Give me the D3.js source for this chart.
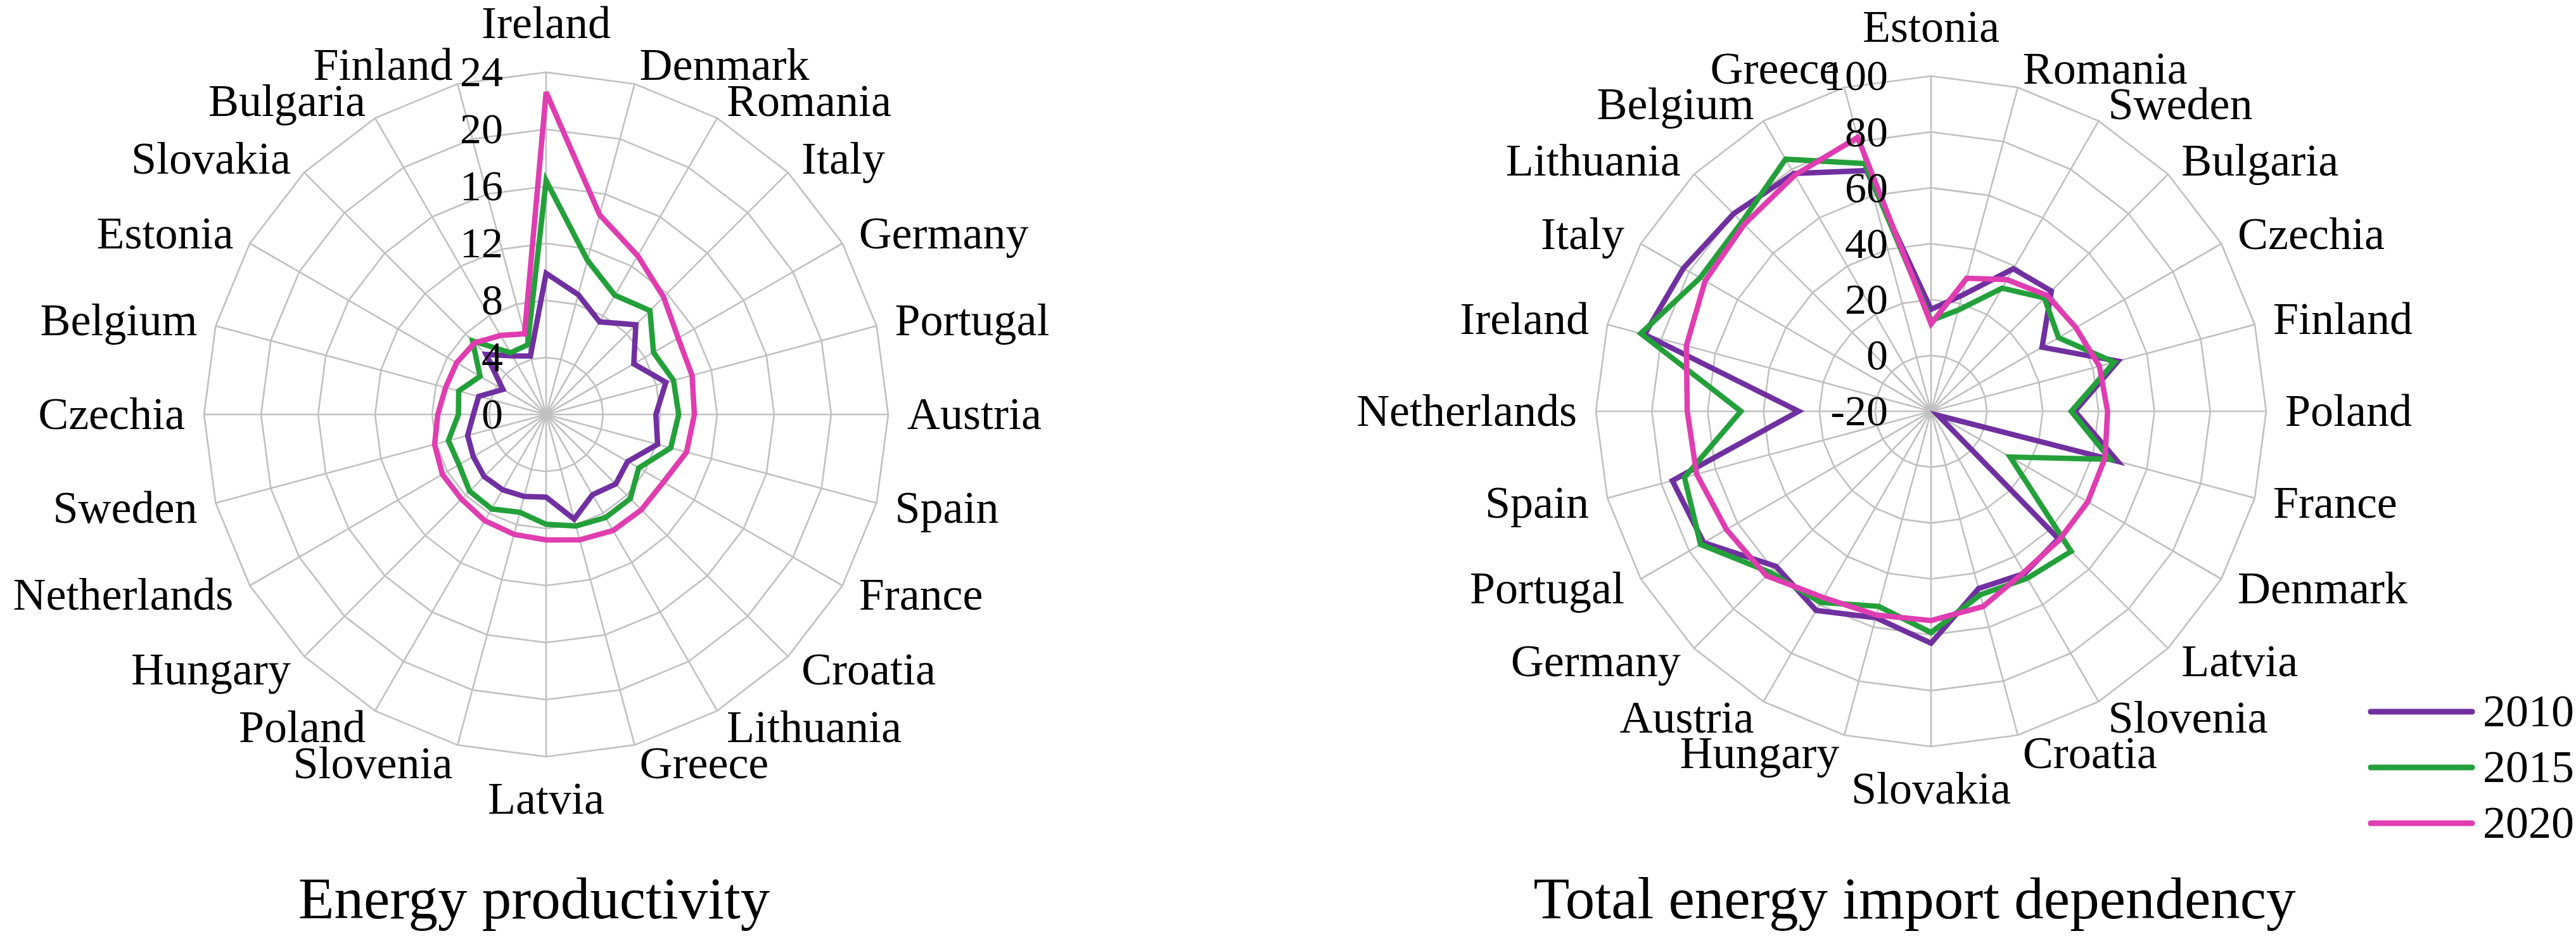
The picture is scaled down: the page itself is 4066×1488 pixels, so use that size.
<!DOCTYPE html>
<html>
<head>
<meta charset="utf-8">
<script src="https://cdn.jsdelivr.net/npm/d3@7"></script>
<style>
  html, body { margin: 0; padding: 0; background: #fff; }
  text { font-family: "Liberation Serif", "Times New Roman", serif; fill: #000; }
</style>
</head>
<body>
<script>
// ---- data ----
var years = ["2010", "2015", "2020"];
var colors = ["#7030a0", "#23a03a", "#df3db0"];

var prodCats = ["Ireland", "Denmark", "Romania", "Italy", "Germany", "Portugal", "Austria", "Spain",
  "France", "Croatia", "Lithuania", "Greece", "Latvia", "Slovenia", "Poland", "Hungary",
  "Netherlands", "Sweden", "Czechia", "Belgium", "Estonia", "Slovakia", "Bulgaria", "Finland"];
var prod2010 = [9.9, 8.7, 7.5, 8.9, 7.1, 8.7, 7.7, 8.1, 6.6, 6.9, 6.5, 7.6, 5.8, 5.95, 6.1, 6.15, 5.9, 5.7, 5.1, 4.9, 3.5, 5.95, 4.75, 4.25];
var prod2015 = [16.4, 11.2, 9.65, 10.3, 8.7, 9.25, 9.3, 9.05, 7.5, 8.35, 8.35, 8.1, 7.7, 7.1, 7.65, 7.6, 7.05, 7.1, 6.15, 6.35, 5.35, 7.3, 5.0, 5.05];
var prod2020 = [22.6, 14.5, 12.85, 11.65, 10.7, 10.6, 10.4, 10.2, 9.5, 9.45, 9.4, 9.1, 8.8, 8.7, 8.6, 8.4, 8.4, 8.1, 7.6, 7.3, 7.25, 7.1, 6.4, 5.85];
var prodTicks = [0, 4, 8, 12, 16, 20, 24];

var impCats = ["Estonia", "Romania", "Sweden", "Bulgaria", "Czechia", "Finland", "Poland", "France",
  "Denmark", "Latvia", "Slovenia", "Croatia", "Slovakia", "Hungary", "Austria", "Germany",
  "Portugal", "Spain", "Netherlands", "Ireland", "Italy", "Lithuania", "Belgium", "Greece"];
var imp2010 = [16.5, 23, 38.9, 40.9, 25.9, 49.3, 31.5, 49.1, -17, 44.5, 47, 45.7, 63, 56.5, 62.3, 58.5, 74, 75.9, 27.4, 86.2, 82.4, 80, 78.3, 69.2];
var imp2015 = [12.5, 17.5, 30.9, 37.4, 32.7, 47.9, 30.2, 46.4, 12.7, 50.9, 49, 48, 59.2, 52.3, 59, 61.5, 75.3, 71.4, 48.1, 87.6, 75.5, 75.8, 84.2, 71.8];
var imp2020 = [11.3, 29.3, 34.4, 38.7, 39.9, 42.4, 43.2, 44.5, 44.8, 45, 46.5, 52.3, 54.9, 55.5, 57, 63.3, 64.6, 66.9, 67.3, 70.7, 73.4, 74.6, 77.6, 81.5];
var impTicks = [-20, 0, 20, 40, 60, 80, 100];

var w = 4066;
var h = 1488;

var svg = d3.select("body").append("svg")
  .attr("width", w)
  .attr("height", h);

var drawRadar = function(cats, series, ticks, cx, cy, R, title, titleX) {
  var n = cats.length;
  var g = svg.append("g").attr("transform", "translate(" + cx + "," + cy + ")");

  var angle = d3.scaleLinear().domain([0, n]).range([0, 2 * Math.PI]);
  var rScale = d3.scaleLinear()
    .domain([ticks[0], ticks[ticks.length - 1]])
    .range([0, R]);

  // ring gridlines (polygons)
  ticks.slice(1).forEach(function(t) {
    var ring = d3.lineRadial()
      .angle(function(d, i) { return angle(i); })
      .radius(rScale(t))
      .curve(d3.curveLinearClosed);
    g.append("path")
      .attr("d", ring(cats))
      .attr("fill", "none")
      .attr("stroke", "#c0c0c0")
      .attr("stroke-width", 2.6);
  });

  // spokes
  g.selectAll("line.spoke")
    .data(cats)
    .enter()
    .append("line")
    .attr("class", "spoke")
    .attr("x1", 0).attr("y1", 0)
    .attr("x2", function(d, i) { return R * Math.sin(angle(i)); })
    .attr("y2", function(d, i) { return -R * Math.cos(angle(i)); })
    .attr("stroke", "#c0c0c0")
    .attr("stroke-width", 2.6);

  // series
  var line = d3.lineRadial()
    .angle(function(d, i) { return angle(i); })
    .radius(function(d) { return rScale(d); })
    .curve(d3.curveLinearClosed);

  series.forEach(function(s, k) {
    g.append("path")
      .attr("d", line(s))
      .attr("fill", "none")
      .attr("stroke", colors[k])
      .attr("stroke-width", 8.5)
      .attr("stroke-linejoin", "miter");
  });

  // tick labels
  g.selectAll("text.tick")
    .data(ticks)
    .enter()
    .append("text")
    .attr("class", "tick")
    .attr("x", -68)
    .attr("y", function(d) { return -rScale(d); })
    .attr("dy", "0.33em")
    .attr("text-anchor", "end")
    .attr("font-size", "68px")
    .text(function(d) { return d; });

  // category labels
  var lr = R + 30;
  g.selectAll("text.cat")
    .data(cats)
    .enter()
    .append("text")
    .attr("class", "cat")
    .attr("font-size", "72px")
    .attr("x", function(d, i) { return lr * Math.sin(angle(i)); })
    .attr("y", function(d, i) {
      var s = Math.sin(angle(i)), c = Math.cos(angle(i));
      var y = -lr * c;
      if (Math.abs(s) < 0.01) return c > 0 ? y - 24 : y + 60;
      return y + 23;
    })
    .attr("text-anchor", function(d, i) {
      var s = Math.sin(angle(i));
      if (Math.abs(s) < 0.01) return "middle";
      return s > 0 ? "start" : "end";
    })
    .text(function(d) { return d; });

  svg.append("text")
    .attr("x", titleX)
    .attr("y", 1449)
    .attr("text-anchor", "middle")
    .attr("font-size", "93px")
    .text(title);
};

drawRadar(prodCats, [prod2010, prod2015, prod2020], prodTicks, 862, 654, 540, "Energy productivity", 843);
drawRadar(impCats, [imp2010, imp2015, imp2020], impTicks, 3048, 649, 529, "Total energy import dependency", 3022);

// legend
var legend = svg.selectAll("g.legend")
  .data(years)
  .enter()
  .append("g")
  .attr("class", "legend")
  .attr("transform", function(d, i) { return "translate(0," + (1123 + i * 88) + ")"; });

legend.append("line")
  .attr("x1", 3742).attr("x2", 3902)
  .attr("y1", 0).attr("y2", 0)
  .attr("stroke", function(d, i) { return colors[i]; })
  .attr("stroke-width", 9)
  .attr("stroke-linecap", "round");

legend.append("text")
  .attr("x", 3919)
  .attr("y", 23)
  .attr("font-size", "72px")
  .text(function(d) { return d; });
</script>
</body>
</html>
